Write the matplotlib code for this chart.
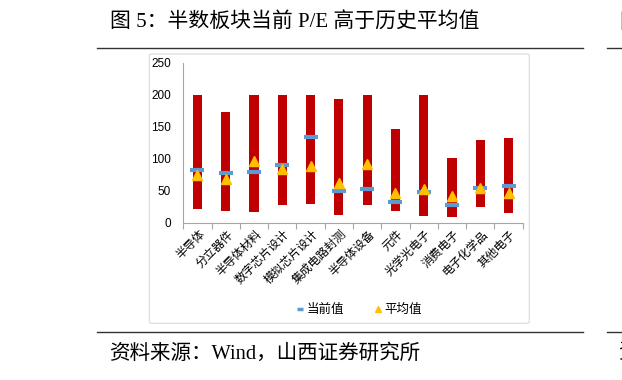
import numpy as np
import matplotlib.pyplot as plt
import matplotlib.transforms as mtransforms
from matplotlib.lines import Line2D
from matplotlib.patches import FancyBboxPatch

plt.rcParams['font.family'] = ['Liberation Sans', 'Noto Sans CJK SC', 'DejaVu Sans']

# 数据
categories = ['半导体', '分立器件', '半导体材料', '数字芯片设计', '模拟芯片设计', '集成电路封测',
              '半导体设备', '元件', '光学光电子', '消费电子', '电子化学品', '其他电子']
pe_high = [200, 173, 200, 200, 200, 194, 200, 146, 200, 101, 130, 133]
pe_low = [22, 18, 17, 28, 30, 12, 27, 19, 10, 9, 24, 15]
pe_current = [82, 78, 80, 90, 134, 50, 52, 33, 48, 27, 54, 58]
pe_average = [74, 68, 96, 84, 88, 62, 92, 46, 52, 42, 55, 47]

red = '#C00000'
blue = '#5B9BD5'
yellow = '#FFC000'

fig = plt.figure(figsize=(6.22, 3.80), dpi=100)
ax = fig.add_axes([0.2947, 0.4139, 0.5457, 0.4211])

x = np.arange(len(categories))
ax.bar(x, np.array(pe_high) - np.array(pe_low), bottom=pe_low, width=0.32, color=red, zorder=2)
ax.plot(x, pe_current, linestyle='none', marker='_', ms=10, mew=3, color=blue, zorder=3)
ax.plot(x, pe_average, linestyle='none', marker='^', ms=6.5, color=yellow, zorder=4)

ax.set_xlim(-0.5, len(categories) - 0.5)
ax.set_ylim(0, 250)
ax.set_yticks([0, 50, 100, 150, 200, 250])
ax.tick_params(axis='y', length=0, pad=9, labelsize=8.5)

ax.set_xticks(x)
ax.set_xticklabels(categories, rotation=45, ha='right', va='top', rotation_mode='anchor', fontsize=8.5)
ax.set_xticks(np.arange(len(categories) + 1) - 0.5, minor=True)
ax.tick_params(axis='x', which='major', length=0, pad=4)
ax.tick_params(axis='x', which='minor', length=4, color='#A6A6A6', width=0.8)
offset = mtransforms.ScaledTranslation(1 / 72, 0, fig.dpi_scale_trans)
for lbl in ax.get_xticklabels():
    lbl.set_transform(lbl.get_transform() + offset)

for s in ['top', 'right']:
    ax.spines[s].set_visible(False)
for s in ['left', 'bottom']:
    ax.spines[s].set_color('#A6A6A6')
    ax.spines[s].set_linewidth(0.8)

# 图例
handles = [Line2D([], [], linestyle='none', marker='_', ms=5, mew=2.5, color=blue),
           Line2D([], [], linestyle='none', marker='^', ms=4.5, color=yellow)]
fig.legend(handles, ['当前值', '平均值'], loc='center', bbox_to_anchor=(0.577, 0.184), ncol=2,
           frameon=False, fontsize=9, handlelength=0.6, handletextpad=0.2, columnspacing=2.4)

# 图表外框
frame = FancyBboxPatch((149.3 / 622, 1 - 323.3 / 380), 380 / 622, 269.3 / 380,
                       boxstyle='round,pad=0,rounding_size=0.004', transform=fig.transFigure,
                       facecolor='none', edgecolor='#D9D9D9', linewidth=0.8, zorder=0)
fig.patches.append(frame)

# 标题与来源（右侧为相邻图表被裁掉的文字）
serif = ['Liberation Serif', 'Noto Sans CJK SC']
fig.text(110 / 622, 1 - 23 / 380, '图 5：半数板块当前 P/E 高于历史平均值', family=serif,
         fontsize=15, ha='left', va='center')
fig.text(110 / 622, 1 - 354 / 380, '资料来源：Wind，山西证券研究所', family=serif,
         fontsize=14.8, ha='left', va='center')
fig.text(619 / 622, 1 - 23 / 380, '图', family=serif, fontsize=15, ha='left', va='center')
fig.text(619 / 622, 1 - 354 / 380, '资', family=serif, fontsize=14.8, ha='left', va='center')

for y in [48.3, 331.7]:
    fig.add_artist(Line2D([97 / 622, 583 / 622], [1 - y / 380] * 2, color='#333333', lw=1.0))
    fig.add_artist(Line2D([607 / 622, 1.0], [1 - y / 380] * 2, color='#333333', lw=1.0))

fig.savefig('out.png', dpi=100)
